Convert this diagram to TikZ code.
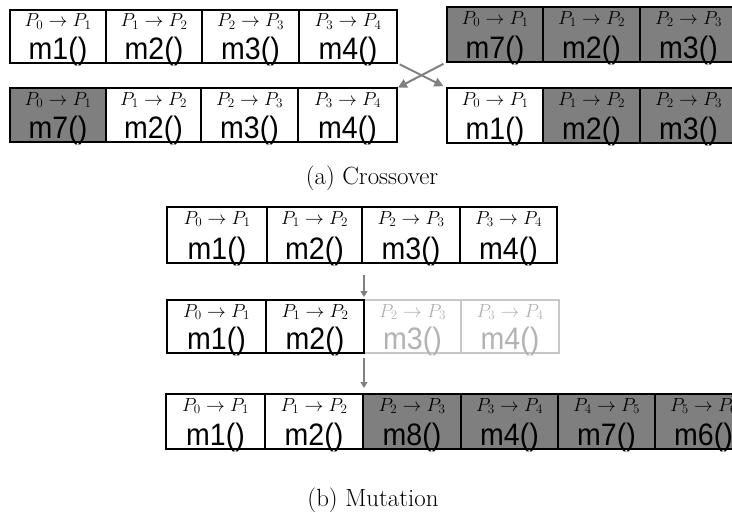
\documentclass[tikz,border=0pt]{standalone}
\usepackage{graphicx}
\usepackage{fontspec}
\newfontfamily\cellsans[FakeStretch=0.92]{Liberation Sans}
\usetikzlibrary{calc,arrows.meta}
\definecolor{cgray}{RGB}{127,127,127}
\definecolor{fadeline}{RGB}{200,200,200}
\definecolor{fadetext}{RGB}{178,178,178}
\definecolor{arrgray}{RGB}{128,128,128}
\tikzset{
  cellbox/.style={draw=black,line width=1.8pt,fill=white,inner sep=0pt,outer sep=0pt},
  shaded/.style={fill=cgray},
  faded/.style={draw=fadeline},
  mathlbl/.style={anchor=base,inner sep=0pt,font=\fontsize{17.28}{20}\selectfont},
  sanslbl/.style={anchor=base,inner sep=0pt,font=\fontsize{31}{31}\cellsans},
  caption/.style={inner sep=0pt,font=\fontsize{24.88}{26}\selectfont},
  crossarr/.style={draw=arrgray,line width=2pt,-{Triangle[length=9pt,width=9pt]}},
  mutarr/.style={draw=arrgray,line width=1.4pt,-{Triangle[length=6pt,width=7pt]}}
}
% #1 name #2 x #3 y #4 w #5 h #6 box style #7 text colour #8 math #9 text
\newcommand\gacell[9]{%
  \node[cellbox,#6,minimum width=#4pt,minimum height=#5pt,anchor=north west] (#1) at (#2,#3) {};
  \node[mathlbl,text=#7] (#1m) at ($(#1.north)+(0,17)$) {\scalebox{1.09}{$#8$}};
  \node[sanslbl,text=#7] (#1t) at ($(#1.north)+(0,#5-4)$) {#9};
}
\begin{document}
\begin{tikzpicture}[x=1pt,y=-1pt]
\clip (0,0) rectangle (732,514);
\fill[white] (0,0) rectangle (732,514);
% crossover, left
\gacell{A1}{10}{10}{96}{53}{}{black}{P_0\to P_1}{m1()}
\gacell{A2}{106}{10}{96}{53}{}{black}{P_1\to P_2}{m2()}
\gacell{A3}{202}{10}{97}{53}{}{black}{P_2\to P_3}{m3()}
\gacell{A4}{299}{10}{98}{53}{}{black}{P_3\to P_4}{m4()}
\gacell{B1}{10}{88}{96}{54}{shaded}{black}{P_0\to P_1}{m7()}
\gacell{B2}{106}{88}{95}{54}{}{black}{P_1\to P_2}{m2()}
\gacell{B3}{201}{88}{97}{54}{}{black}{P_2\to P_3}{m3()}
\gacell{B4}{298}{88}{99}{54}{}{black}{P_3\to P_4}{m4()}
% crossover, right
\gacell{C1}{447}{7}{96}{55}{shaded}{black}{P_0\to P_1}{m7()}
\gacell{C2}{543}{7}{97}{55}{shaded}{black}{P_1\to P_2}{m2()}
\gacell{C3}{640}{7}{97}{55}{shaded}{black}{P_2\to P_3}{m3()}
\gacell{D1}{447}{88}{96}{55}{}{black}{P_0\to P_1}{m1()}
\gacell{D2}{543}{88}{97}{55}{shaded}{black}{P_1\to P_2}{m2()}
\gacell{D3}{640}{88}{97}{55}{shaded}{black}{P_2\to P_3}{m3()}
\draw[crossarr,shorten <=4pt,shorten >=1pt] (C1.south west) -- (B4.north east);
\draw[crossarr,shorten <=3pt,shorten >=4pt] (A4.south east) -- (D1.north west);
\node[caption] (capa) at (372,178) {(a) Crossover};
% mutation
\gacell{E1}{167}{207}{100}{56}{}{black}{P_0\to P_1}{m1()}
\gacell{E2}{267}{207}{95}{56}{}{black}{P_1\to P_2}{m2()}
\gacell{E3}{362}{207}{98}{56}{}{black}{P_2\to P_3}{m3()}
\gacell{E4}{460}{207}{97}{56}{}{black}{P_3\to P_4}{m4()}
\gacell{F3}{364}{300}{97}{53}{faded}{fadetext}{P_2\to P_3}{m3()}
\gacell{F4}{461}{300}{98}{53}{faded}{fadetext}{P_3\to P_4}{m4()}
\gacell{F1}{167}{300}{99}{53}{}{black}{P_0\to P_1}{m1()}
\gacell{F2}{266}{300}{98}{53}{}{black}{P_1\to P_2}{m2()}
\gacell{G1}{166}{394}{99}{55}{}{black}{P_0\to P_1}{m1()}
\gacell{G2}{265}{394}{98}{55}{}{black}{P_1\to P_2}{m2()}
\gacell{G3}{363}{394}{98}{55}{shaded}{black}{P_2\to P_3}{m8()}
\gacell{G4}{461}{394}{97}{55}{shaded}{black}{P_3\to P_4}{m4()}
\gacell{G5}{558}{394}{97}{55}{shaded}{black}{P_4\to P_5}{m7()}
\gacell{G6}{655}{394}{97}{55}{shaded}{black}{P_5\to P_6}{m6()}
\draw[mutarr,shorten <=12pt,shorten >=3pt] (F3.north west |- E3.south) -- (F3.north west);
\draw[mutarr,shorten <=5pt,shorten >=6pt] (F3.south west) -- (F3.south west |- G3.north);
\node[caption] (capb) at (373,500) {(b) Mutation};
\end{tikzpicture}
\end{document}
